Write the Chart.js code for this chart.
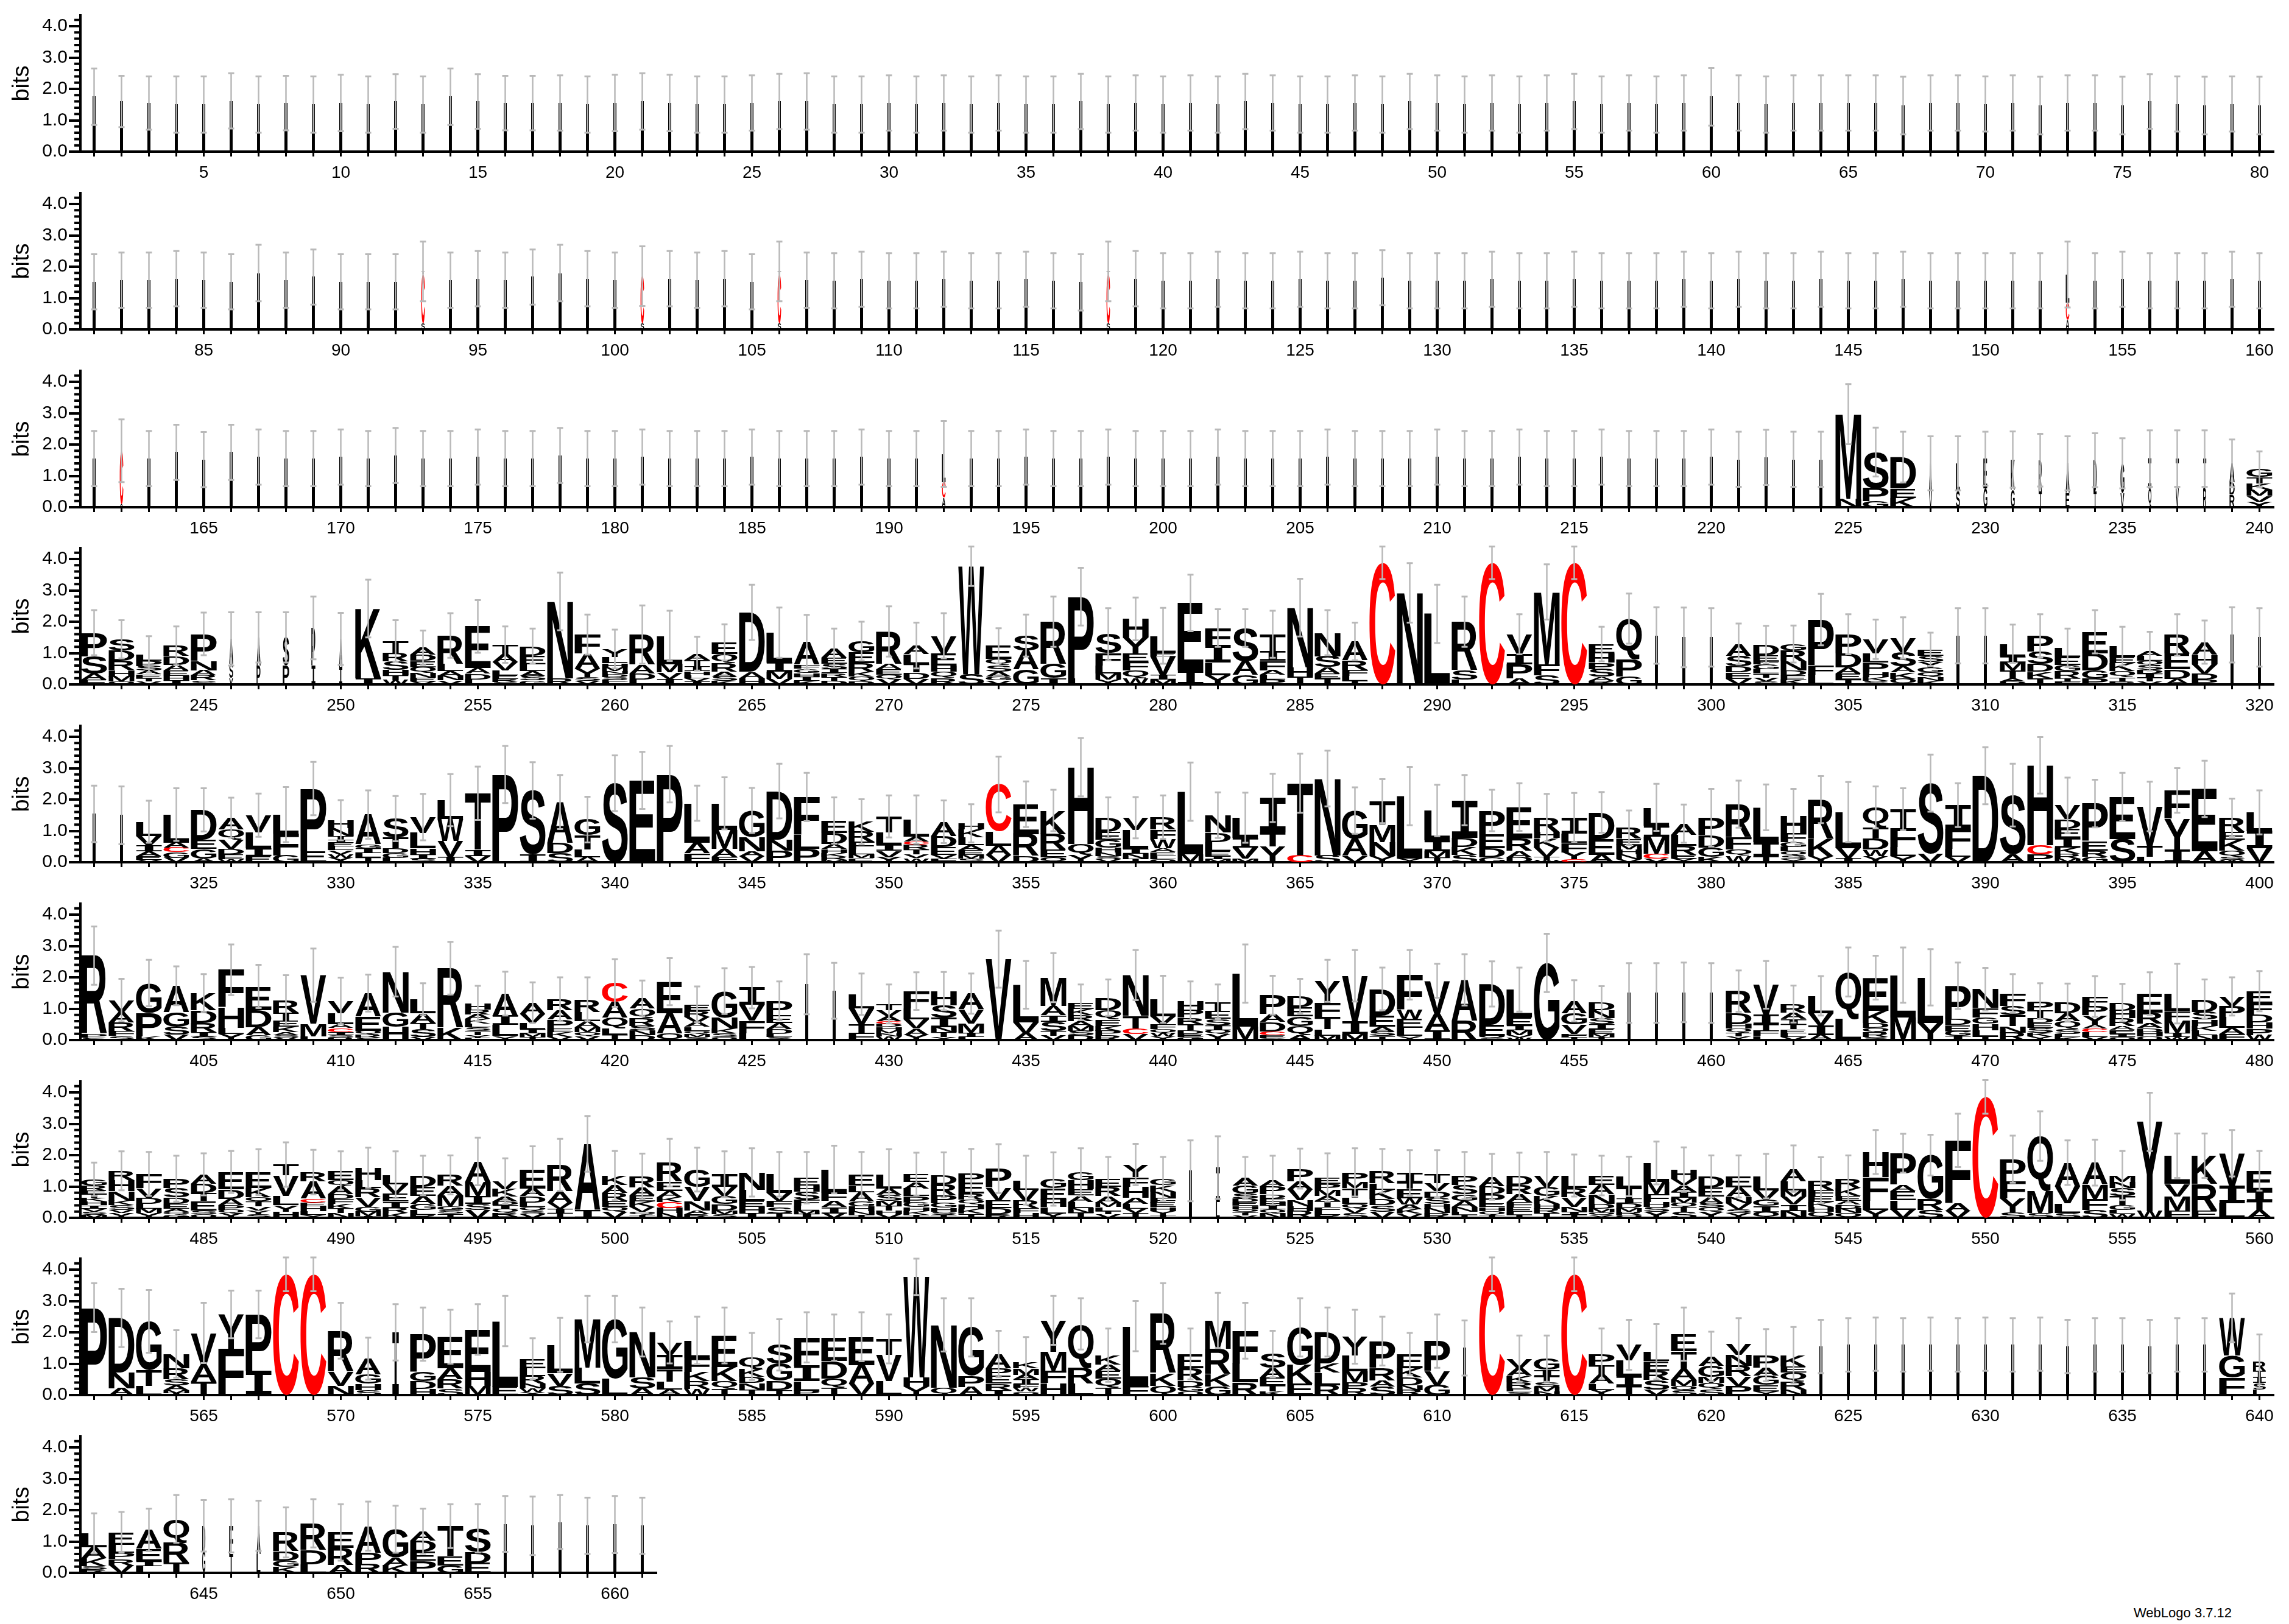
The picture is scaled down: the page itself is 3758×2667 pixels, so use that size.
<!DOCTYPE html>
<html>
<head>
<meta charset="utf-8">
<script src="https://cdn.jsdelivr.net/npm/chart.js@4.4.1/dist/chart.umd.min.js"></script>
<style>
  body { margin: 0; background: #fff; }
  #wrap { position: relative; width: 3758px; height: 2667px; background: #fff; overflow: hidden; }
  #wrap canvas { position: absolute; left: 0; }
  #credit { position: absolute; left: 3503px; top: 2636px; font: 22px "Liberation Sans", Arial, sans-serif; color: #000; }
</style>
</head>
<body>
<div id="wrap"><div id="credit">WebLogo 3.7.12</div></div>
<script>
// row start positions (80 positions per row, last row shorter)
const rowStarts = [1, 81, 161, 241, 321, 401, 481, 561, 641];
const yTickValues = [0, 1, 2, 3, 4];

// stacks: letters listed top -> bottom with their height in bits.
// "w.12" = stack width fraction (gappy column); a bare number = thin gappy column of that height
const row1 = [1.75,1.6,1.55,1.5,1.5,1.62,1.5,1.55,1.5,1.55, 1.5,1.6,1.5,1.75,1.6,1.55,1.55,1.55,1.5,1.55,
  1.6,1.55,1.5,1.5,1.55,1.6,1.6,1.5,1.5,1.55, 1.5,1.55,1.5,1.55,1.5,1.5,1.6,1.5,1.55,1.5,
  1.55,1.5,1.6,1.55,1.5,1.5,1.55,1.5,1.6,1.55, 1.5,1.55,1.5,1.55,1.6,1.5,1.55,1.5,1.55,1.75,
  1.55,1.5,1.55,1.55,1.55,1.55,1.47,1.55,1.55,1.52, 1.55,1.47,1.55,1.55,1.47,1.6,1.52,1.47,1.52,1.47];
const err1 = [.9,.82,.85,.9,.9,.88,.9,.87,.9,.9, .9,.87,.9,.9,.87,.87,.87,.88,.9,.9,
  .9,.9,.9,.9,.88,.88,.9,.9,.9,.88, .9,.88,.9,.88,.9,.9,.88,.9,.88,.9,
  .88,.9,.88,.88,.9,.9,.88,.9,.88,.88, .9,.88,.9,.88,.88,.9,.88,.9,.88,.92,
  .88,.9,.88,.88,.88,.88,.92,.88,.88,.88, .88,.92,.88,.88,.92,.87,.88,.92,.88,.92];

const row2 = [1.52,1.57,1.57,1.62,1.57,1.52,1.8,1.57,1.67,1.52,
  1.52,1.52,"w.14 T.08 C1.57 S.2",1.57,1.62,1.57,1.67,1.8,1.62,1.57,
  "w.14 C1.5 S.2",1.62,1.57,1.62,1.52,"w.14 T.1 C1.55 S.2",1.57,1.55,1.6,1.55,
  1.55,1.6,1.55,1.55,1.6,1.55,1.5,"w.14 T.1 C1.55 S.2",1.62,1.55,
  1.55,1.6,1.55,1.55,1.6,1.55,1.55,1.65,1.55,1.55,
  1.55,1.6,1.55,1.55,1.6,1.55,1.55,1.55,1.6,1.55,
  1.6,1.55,1.55,1.6,1.55,1.55,1.6,1.55,1.55,1.55,
  1.55,1.55,"w.14 L.9 C.55 A.3",1.55,1.6,1.55,1.55,1.55,1.6,1.55];
const err2 = [.88,.88,.88,.88,.88,.88,.9,.88,.88,.88, .88,.88,.95,.88,.88,.88,.88,.9,.88,.88,
  .95,.88,.88,.88,.88,.95,.88,.88,.88,.88, .88,.88,.88,.88,.88,.88,.9,.95,.88,.88,
  .88,.88,.88,.88,.88,.88,.88,.88,.88,.88, .88,.88,.88,.88,.88,.88,.88,.88,.88,.88,
  .88,.88,.88,.88,.88,.88,.88,.88,.88,.88, .88,.88,1.05,.88,.88,.88,.88,.88,.88,.88];

const row3 = [1.55,"w.14 C1.7 A.1",1.55,1.75,1.52,1.75,1.6,1.55,1.55,1.6,
  1.55,1.65,1.55,1.55,1.6,1.55,1.55,1.65,1.55,1.55,
  1.6,1.55,1.55,1.55,1.6,1.55,1.55,1.55,1.6,1.55,
  1.55,"w.14 L.9 C.5 A.3",1.55,1.55,1.6,1.55,1.55,1.6,1.55,1.55,
  1.55,1.6,1.55,1.55,1.55,1.6,1.55,1.55,1.55,1.6,
  1.55,1.55,1.6,1.55,1.55,1.6,1.55,1.55,1.55,1.6,
  1.53,1.59,1.53,1.53,"M2.7 N.27","S1.15 P.42 G.19","D1.0 E.3 K.3","w.12 A.9 V.5","w.15 L.9 S.5","w.15 E.95 G.6",
  "w.15 K.95 G.57","w.12 R1.0 T.5","w.15 A.95 E.45","w.12 D1.0 T.5","w.15 G.95 V.45","w.12 I.95 Q.6","w.12 T.95 V.6","w.12 T.95 R.6","w.2 A.6 D.4 R.4","G.25 T.2 K.2 M.2 V.18 Y.18"];
const err3 = [.88,1.0,.88,.88,.88,.88,.88,.88,.88,.88, .88,.88,.88,.88,.88,.88,.88,.88,.88,.88,
  .88,.88,.88,.88,.88,.88,.88,.88,.88,.88, .88,1.05,.88,.88,.88,.88,.88,.88,.88,.88,
  .88,.88,.88,.88,.88,.88,.88,.88,.88,.88, .88,.88,.88,.88,.88,.88,.88,.88,.88,.88,
  .88,.88,.88,.88,.96,.78,.81,.86,.86,.86, .9,.84,.86,.86,.8,.9,.9,.9,.76,.57];

const row4 = ["P.75 S.55 A.2 E.15","S.36 D.33 R.29 H.2 M.16 Q.1","L.2 P.17 S.15 A.12 E.12 T.1 V.1","R.32 D.28 A.18 E.18 H.15 I.12","P.86 N.3 A.16 R.16 S.13",
  "w.15 A.8 S.45 V.2","w.15 A.9 P.6","w.25 S.9 P.6","w.15 P1.2 I.6","w.12 A.9 I.55",
  "K2.22 I.2","T.38 R.27 S.27 H.18 T.15 W.14","A.22 D.2 E.2 Q.18 N.15 E.12 V.1","R.9 L.23 A.15 N.15 V.13","E1.33 A.18 D.18 L.16",
  "T.3 A.25 V.28 L.14 E.12 R.1 S.08","D.3 E.28 L.22 A.15 S.14 G.13","N2.45 R.2","F.6 A.48 Y.28 S.12 V.11","Y.25 L.2 H.13 M.12 N.1 D.1 S.08 E.08 L.07",
  "R.96 A.28 D.2 L.15","L.9 M.27 V.2 I.18","A.2 T.2 I.15 H.13 L.1 V.1 I.1","E.36 Q.3 R.27 A.15 S.14 K.12","D1.9 A.2 H.2",
  "L.95 I.3 M.22 V.18","A.72 F.13 G.13 H.13 I.12 K.12","A.3 E.2 S.18 I.12 R.12 T.12 D.12","G.35 E.35 R.28 K.15 Q.15 D.1","R1.03 A.17 E.17 Q.16 V.16",
  "A.28 L.3 T.28 D.2 V.18","V.55 E.4 H.2 Q.2 R.2","W3.45 S.32","E.42 Q.2 S.2 A.15 G.13 V.13","S.48 A.6 G.48",
  "R1.35 G.45 I.2","P2.6 L.2","S.6 F.4 L.25 M.2 Y.15","H.6 Y.5 E.27 F.27 Q.25 W.2","L.55 E.1 V.6 I.15 M.15",
  "E2.15 I.45","F.55 I.55 L.4 Y.3","S1.05 A.45 G.3","T.55 I.3 F.3 A.15 L.15 P.15","N1.9 H.3 T.25",
  "N.75 S.35 A.2 E.15 T.2","A.6 R.3 F.2 L.15 T.12","C3.88","N2.92","L2.25",
  "R1.55 S.3 L.15","C3.88","V.62 I.33 P.45 A.2","M2.3 F.35 S.3","C3.88",
  "E.3 H.3 P.2 S.25 A.12 R.12","Q1.3 P.55 G.25",1.56,1.5,1.5,
  "A.38 S.33 D.2 E.2 V.18","D.33 E.2 F.1 G.15 L.15 T.12 V.12 S.1","G.2 R.35 N.3 D.15 E.15 K.14","P1.45 F.3 L.32","P.6 D.45 A.2 E.2 T.15",
  "V.45 L.3 P.3 H.15 K.12 S.12","V.45 S.45 A.2 K.2 Q.18","E.2 S.2 Y.18 G.15 Q.15 N.12 K.12",1.55,1.55,
  "L.4 I.2 M.25 T.25 A.1 D.1","P.5 S.4 D.25 K.2 T.2","L.3 E.25 G.2 R.22 T.1 F.1","E.68 D.55 G.25 P.2","L.35 E.2 K.25 Q.2 T.12 R.1",
  "A.15 L.15 Q.15 S.15 D.12 I.12 T.12 V.1","R.6 E.5 D.3 A.18","A.4 H.3 V.3 D.2 P.15",1.58,1.5];
const err4 = [.72,.61,.58,.62,.68,.85,.8,.8,1.0,.83, .92,.66,.55,.71,.84,.58,.56,.92,.64,.62,
  .93,.8,.54,.58,.88,.8,.87,.62,.62,.8, .73,.72,.63,.56,.67,.8,.92,.83,.68,.89,
  .9,.6,.6,.75,.92,.72,.6,.52,.95,.93, .8,.52,.64,.88,.52,.55,.8,.9,.95,.93,
  .65,.6,.59,.82,.64,.63,.66,.53,.88,.88, .61,.69,.61,.69,.62,.62,.66,.69,.88,.93];

const row5 = [1.54,1.5,"L.45 V.3 I.2 A.14 E.12 V.08","L.9 A.16 C.14 G.18 V.14","D.95 E.3 G.3 A.12",
  "A.38 Q.32 V.3 D.17 E.15 W.1","V.55 L.5 I.25 E.2","L.6 F.7 G.22","P2.0 E.35","H.25 N.25 T.12 I.1 E.12 L.12 V.12 W.12 Y.14",
  "A.95 G.12 I.15 L.15 T.15","S.6 T.35 D.15 G.15 L.14","V.5 L.5 H.2 I.12 S.12","L.6 W.7 V.5 I.18","T1.8 I.2 V.2",
  "P2.8","S2.05 I.24","A1.3 D.32 S.3","G.5 T.45 L.25 A.16","S2.52",
  "E2.61","P2.81","L1.25 A.35 F.28","L.85 M.6 A.25 F.18","G.85 N.45 A.15 V.2",
  "D1.55 N.35 P.37","F1.2 L.45 P.43","E.4 D.35 A.15 H.13 K.12 R.1 M.08","K.32 R.32 F.25 L.15 M.12 E.13","T.5 L.4 I.2 V.2 Y.16",
  "L.55 A.15 C.1 R.15 T.15 V.13 W.13","A.45 D.35 E.25 V.12 F.12","H.2 K.25 L.25 A.15 E.15 M.12 S.12","C1.5 L.45 A.3 V.23","E.95 R.7 D.2",
  "K.75 R.5 E.25 Q.15","H2.45 Q.35 Y.23","D.45 E.25 G.25 H.15 N.12 S.1 V.1","V.4 L.6 I.15 N.15 T.12","R.4 F.3 W.3 A.12 E.12 L.1 Q.1",
  "L2.0 M.25","N.55 D.3 L.3 E.15 I.1 M.1","L.65 I.3 V.35 M.12","I1.1 T.45 Y.5","T2.3 C.22",
  "N2.45 S.22","G.9 A.55 V.2","T.75 M.55 N.45 Y.2","L2.0 Y.11","L.95 I.35 M.2 T.15",
  "I1.2 D.3 K.25 S.23","P.75 E.45 D.3 G.15","E1.0 R.4 A.2 D.16","R.45 H.2 K.3 V.3 T.1 W.07","I.5 L.3 F.3 Y.22 C.1",
  "D.85 E.5 A.24","R.35 E.2 M.15 H.15 N.15 V.1","L.58 I.35 M.55 C.15 V.12","A.35 L.35 R.3 E.12 Y.11","P.55 D.4 G.3 K.17",
  "R1.05 F.4 Q.2 W.2","L1.1 I.45 T.2","H.55 F.3 G.15 L.15 Q.12 S.12 Y.1","R1.25 K.55 Y.2","L1.15 V.32 I.13",
  "Q.65 T.35 D.35 W.2 Y.2","T.6 F.6 L.3 Y.19","S2.25 V.27","I.75 F.65 L.25 V.17","D2.76",
  "S1.9 A.24","H2.55 C.3 P.24","V.45 D.3 E.3 I.3 K.2 R.15 M.12","P1.2 E.3 R.2 G.17","E1.35 S.73",
  "V1.25 T.35 L.18","F.9 Y1.0 I.39","E2.0 A.34","R.45 E.25 K.35 Q.2 S.1 W.07","L.6 I.55 V.44"];
const err5 = [.9,.92,.67,.84,.69,.64,.69,.88,.85,.64, .77,.72,.74,.83,.85,.91,.9,.86,.73,.89,
  .91,.9,.56,.83,.72,.87,.77,.74,.72,.67, .77,.68,.61,.89,.73,.66,.93,.65,.66,.69,
  .93,.73,.8,.77,.94,.89,.74,.7,.93,.82, .8,.66,.76,.76,.79,.65,.55,.75,.61,.92,
  .75,.73,.85,.75,.96,.67,.67,.91,.7,.91, 1.0,.9,.88,.76,.77,.79,.71,.9,.61,.7];

const row6 = ["R2.5 P.12 S.07","V.38 A.32 R.3 F.14 S.13","G.95 P.75 K.12","A.85 G.45 S.25 V.18","K.55 D.4 R.3 I.13 S.12",
  "F1.2 H.65 L.2 Y.19","E.75 D.55 A.25 G.16","R.4 T.25 E.2 K.18 A.1 S.08 V.07","V1.55 M.4 L.12","V.4 L.35 A.12 C.12 I.1 S.08 R.08",
  "A.75 E.45 Q.12 R.1 S.08","N1.3 G.45 H.43","L.45 A.3 T.2 S.25 V.1","R1.9 K.39","H.2 R.15 A.15 K.15 L.12 S.12 T.12 Y.1 E.06",
  "A.7 I.3 L.35 Y.13","A.35 V.3 L.2 I.12 M.12 T.1","R.35 A.3 P.28 E.12 K.15 V.1","R.4 L.3 A.2 M.15 Q.13 V.12","C.6 A.5 Q.35 L.2 T.17",
  "A.33 Q.3 R.25 S.15 N.15 D.15","E1.0 A.65 Q.21","E.2 R.2 V.18 A.14 L.12 Q.1 M.1 S.1","G.85 N.35 K.14 S.12 Q.1","I.55 V.5 F.4 L.22",
  "P.45 E.25 A.2 D.15 L.1 S.1",1.78,1.57,"L.45 V.5 T.3 F.21","T.2 V.2 A.15 C.08 D.1 H.1 M.1 N.1 W.12",
  "F.55 L.35 V.3 A.2 Y.16","H.45 S.4 I.3 N.16 T.15 Y.1","A.5 V.45 M.3 I.13 L.1","V2.58","L1.2 V.35 A.21",
  "M.9 A.3 I.2 S.3 T.15 V.14","E.2 K.2 R.2 A.15 M.15 S.15 D.15","D.4 Q.3 E.2 K.15 P.15 R.15","N1.3 T.4 C.17 V.2","L.55 V.25 F.15 Q.12 W.12 Y.11",
  "H.3 P.25 R.2 T.2 D.12 E.1 G.09","T.3 E.25 S.2 I.15 Q.12 Y.2","L1.7 M.42","P.6 A.25 D.3 C.12 E.1 G.06","D.35 E.3 G.3 Q.3 A.15",
  "Y.7 F.45 T.4 L.2 M.14","V1.45 I.4 M.2","D.85 E.35 A.15 S.15 T.13","F1.1 W.3 E.3 L.25 Y.13","V1.05 A.55 I.29",
  "A1.3 R.62","D1.3 E.35 Q.08 S.06","L.9 E.25 I.15 M.15 V.08 W.08","G2.46","A.4 G.35 V.3 F.1 T.1",
  "D.25 N.25 S.2 I.15 E.15 M.1 T.1",1.5,1.5,1.52,1.5,
  "R.7 D.35 H.15 Q.12 T.12 Y.12","V.95 I.3 T.2 F.18 L.13","R.28 A.2 I.18 T.15 E.12 L.12 V.1","L.55 V.4 I.3 A.16","Q1.5 L.67",
  "E1.05 K.4 D.15 Q.15 R.14 S.1","L1.35 M.72","L1.45 Y.55","P1.05 D.2 E.2 G.15 I.13","N.6 F.3 G.2 H.2 L.2 T.12",
  "F.4 S.3 T.35 N.2 R.24","P.3 T.25 D.15 E.15 S.15 K.12 Y.12","D.35 A.25 Q.25 S.15 L.1 K.1","F.3 P.3 Y.3 A.12 C.12 L.15 V.1","D.25 H.25 R.25 A.12 E.12 I.1 Q.1",
  "E.6 R.35 A.15 D.12 H.14 Q.12","L.55 F.3 M.4 I.13 W.1","D.4 S.25 H.2 K.15 L.15 N.15","V.3 P.35 L.35 A.2 F.19","E.4 F.35 D.25 H.2 P.2 W.16"];
const err6 = [.93,.68,.74,.62,.6,.81,.69,.79,.85,.74, .59,.79,.51,.84,.56,.7,.65,.7,.7,.76,
  .57,.75,.57,.73,.66,.62,.96,.89,.66,.62, .6,.61,.64,.91,.76,.78,.57,.58,.8,.75,
  .61,.55,.93,.62,.55,.67,.82,.68,.79,.54, .82,.72,.7,.93,.66,.52,.95,.95,.95,.95,
  .66,.76,.59,.63,.78,.7,.88,.9,.74,.68, .61,.57,.6,.65,.6,.68,.95,.63,.61,.64];

const row7 = ["G.2 R.15 E.12 T.12 K.12 H.12 I.1 V.1 S.1 M.1","R.3 H.35 N.3 K.15 S.15 V.1 Y.15","F.45 V.3 D.2 L.15 M.15 Y.15","P.3 S.3 D.2 E.15 A.1 Q.1 G.1","A.3 D.3 T.25 E.3 S.12 Q.12",
  "E.55 D.3 A.2 P.15 Q.12 Y.14","E.5 K.3 Q.15 T.15 V.12 Y.12 S.12","T.35 V.65 L.3 Y.2 H.2","R.3 A.55 C.12 E.12 H.15 L.12 Y.1","E.3 Q.2 A.25 D.15 F.15 K.15 T.15 N.15",
  "H.4 L.25 R.3 V.3 G.15 M.15 I.05","L.3 V.3 E.25 I.2 R.17 K.15","D.35 E.3 A.25 G.2 L.15 R.1","R.35 A.3 M.35 G.12 S.12 T.13","A.65 M.45 I.25 S.2 V.25",
  "V.25 K.25 A.15 D.12 I.12 Q.12 R.12 E.04","E.6 A.25 D.2 L.15 Q.12 S.1 V.12","R.85 A.35 V.2 I.15 T.14","A2.1 I.26","K.3 A.25 R.25 E.2 Q.15 V.2",
  "R.35 A.25 E.2 K.17 V.15 Q.1 T.1","R.6 E.3 A.2 K.15 C.2 H.16 N.15","G.55 V.45 N.3 A.12 R.12","I.4 V.3 G.25 D.2 M.12 S.12","N.55 L.35 E.2 H.2 I.15",
  "L.6 V.25 F.2 S.2 T.14","E.25 H.2 S.25 F.2 L.15 M.12 I.11","L.75 F.25 A.2 I.2 V.14","E.35 L.2 A.3 G.15 H.15 N.12 T.1","L.45 A.2 S.2 M.15 T.15 H.12 V.12",
  "E.25 A.2 L.25 P.2 G.15 H.12 K.12 T.1","D.3 R.35 P.25 G.15 H.12 S.1 T.1","P.3 E.35 R.2 Q.15 H.15 K.15 T.13","P.6 V.4 E.25 D.2 R.12","L.3 V.35 R.25 F.15 H.15",
  "G.3 E.35 H.25 L.2 Y.14","G.25 H.3 E.2 A.2 L.2 N.15 T.16","E.25 R.3 A.2 M.15 L.12 T.1 V.12","Y.4 F.3 H.35 A.2 L.15 V.15 T.15","G.2 K.2 N.2 F.15 E.15 H.12 Y.12 T.1",
  1.5,"w.15 I1.1 L.5","A.25 G.25 S.15 D.12 E.12 H.1 Q.1 T.1 V.08","A.2 P.25 D.12 E.12 H.12 I.12 Q.12 N.15","P.4 A.25 V.35 N.2 H.15 R.22",
  "E.2 P.2 M.2 A.15 T.2 F.12 L.12 R.1","P.3 M.2 T.3 L.2 Q.15 V.15 S.15","R.4 L.2 K.3 D.2 S.2 V.2","I.3 T.2 E.3 W.2 A.15 K.15 V.13","T.3 V.25 D.2 S.2 H.15 N.15 R.15",
  "P.3 S.3 G.2 A.2 N.15 L.1 T.1","A.3 D.25 P.3 E.12 H.12 Q.12 T.1","D.3 R.3 A.25 F.15 E.15 L.1 T.1","V.35 G.3 K.25 H.15 R.15 T.15","L.4 R.3 V.3 N.15 I.1 T.1",
  "E.3 A.3 N.3 D.15 M.12 Q.1 Y.08","L.35 T.35 I.15 D.15 M.12 R.1 Q.1","L.6 M.4 F.25 H.15 S.15 Y.2","H.3 V.2 A.2 I.2 M.15 Q.15 T.14 S.2","D.35 E.3 A.2 S.15 Q.12 Y.2",
  "E.35 A.3 N.2 V.2 S.12 Y.15","L.45 V.3 G.2 I.2 Q.18","A.4 L.3 M.2 V.25 I.2 N.22","R.3 F.2 E.2 K.15 H.15 Q.2","R.3 K.25 E.15 A.12 D.12 N.15 Q.15",
  "H.8 F.75 L.3 Y.25","P1.0 A.2 E.3 L.3 V.26","G1.4 R.35 S.25","F2.0 A.25 V.22","C3.86",
  "P.7 F.55 Y.45 S.17","Q1.75 M.7 S.16","A.75 V.55 L.3 S.16","A.7 M.45 F.35 S.26","M.2 N.2 S.25 T.3 G.15 L.12 W.13",
  "Y2.85 W.21","L.9 V.4 M.45 F.23","K.9 R.85 E.23","V1.05 I.55 L.46","E.65 I.3 T.3 A.25"];
const err7 = [.53,.62,.7,.73,.67,.67,.73,.71,.71,.62, .64,.75,.63,.62,.76,.73,.74,.83,.89,.78,
  .73,.76,.7,.73,.77,.71,.82,.76,.73,.8, .69,.72,.77,.78,.78,.85,.76,.7,.66,.7,
  .97,1.0,.67,.78,.64,.77,.77,.7,.73,.76, .75,.73,.73,.75,.67,.63,.63,.68,.71,.67,
  .67,.71,.74,.73,.75,.7,.62,.65,.85,.54, .75,.79,.71,.73,.78,.93,.71,.71,.74,.63];

const row8 = ["P2.79","D1.75 N.5 A.21","G1.55 T.5 L.3","N.45 R.35 S.2 A.15 M.1 T.06","V1.0 A.55 T.43",
  "Y1.1 F1.47","P1.8 I.77","C3.85","C3.85","R1.3 V.45 N.3",
  "A.5 G.3 H.2 S.16","w.25 I2.0","P1.2 G.3 D.25 H.19","E1.0 A.35 R.3 S.21","E1.35 H.45 M.29",
  "L2.1 E.26","E.3 L.25 R.25 N.15 W.11 Y.1","L.9 V.4 S.3","M1.55 L.5 S.37","G1.9 L.52",
  "N1.45 S.35 A.21","V.4 I.45 T.4 L.25 A.18","L.55 F.45 K.3 R.25 W.19","E1.0 K.45 Q.25 T.2","Q.4 K.25 D.2 N.2 T.18",
  "S.6 G.55 D.3 T.15","F.9 I.5 L.3 P.14","E.75 D.55 Q.3 T.23","E.9 A.6 V.36","T.5 V.85 L.44",
  "W3.2 H.3 Y.27","N2.0 Q.24","G1.55 P.35 A.26","A.45 P.25 E.25 R.2 I.16","K.2 M.2 A.15 I.15 F.12 W.12 Q.11",
  "Y1.0 M.6 F.4 H.38","Q1.4 R.5 L.37","K.3 A.2 E.25 Q.3 T.22","L1.9 F.3","R1.9 K.4 Q.3",
  "E.45 R.4 D.2 G.14 Q.12","M.9 R.8 K.4 G.28","F1.05 L.6 R.4","S.45 A.3 E.25 T.2 K.11","G1.2 K.6 E.36",
  "D1.0 K.3 L.4 R.31","Y.6 L.5 M.35 P.2 R.21","P.85 R.4 A.2 S.27","E.45 K.3 D.25 N.15 R.16","P.95 V.45 G.32",
  1.5,"C3.85","V.3 A.25 K.2 R.2 E.1 S.11","G.35 I.2 T.2 S.15 M.15 N.11","C3.85",
  "P.35 T.3 A.3 L.2 Y.16","V.5 L.5 I.3 T.3","L.3 E.3 R.3 S.3 V.18","E.55 T.55 A.35 M.2 Q.15 S.14","A.3 G.35 M.2 Q.2 S.18",
  "V.35 N.35 R.35 V.3 P.29","P.4 A.25 G.3 E.2 Y.12","K.35 E.2 Q.3 R.25 N.17",1.55,1.6,
  1.62,1.6,1.62,1.6,1.62,1.6,1.62,1.55,1.6,1.6,
  1.55,1.6,1.6,"W1.2 G.7 F.56","w.5 R.3 T.2 I.2 S.2 L.18"];
const err8 = [.78,.93,1.0,.76,.96,.76,.76,.54,.54,.89, .67,.9,.85,.86,.81,.8,.65,.86,.74,.74,
  .78,.67,.76,.89,.75,.82,.8,.74,.78,.78, .58,.85,.93,.74,.8,.78,.82,.85,.8,.97,
  .81,.88,.89,.74,.93,.78,.86,.78,.67,.85, .88,.54,.74,.74,.54,.81,.8,.88,.85,.79,
  .81,.83,.9,.85,.85,.85,.85,.85,.85,.85, .85,.85,.85,.85,.85,.85,.85,.85,.78,.85];

const row9 = ["L.45 A.35 K.25 S.1 R.11","E.4 L.25 P.2 R.2 V.24","A.6 E.4 I.15 L.22","Q.75 R.65 T.32","w.12 D.8 G.7",
  "w.15 F.9 T.6","w.15 A.9 L.6","R.6 D.3 G.2 K.19","R.85 D.45 L.28","E.5 R.55 A.24",
  "A.85 P.35 R.29","G.9 A.25 K.24","A.3 D.35 E.3 P.38","T.95 E.3 G.24","S.75 D.35 E.32",
  1.56,1.5,1.62,1.5,1.54,1.5];
const err9 = [.64,.65,.68,.76,.82,.85,.8,.8,.77,.9,.78,.75,.72,.7,.77,.89,.93,.86,.9,.91,.9];

const rowStacks = [row1, row2, row3, row4, row5, row6, row7, row8, row9];
const rowErrors = [err1, err2, err3, err4, err5, err6, err7, err8, err9];

// layout / style
const rowStep = 291.75;
const canvasH = 310;
const axisLeft = 132;
const colPx = 45;
const gapWidth = 0.12;
const FONT = '"Liberation Sans", Arial, sans-serif';
const GLYPH_FONT = 'bold 200px ' + FONT;
// the logo "I" has bars top and bottom, so take it from a slab-style face
const SERIF_I_FONT = 'bold 200px "DejaVu Sans Mono", "Liberation Mono", monospace';

const metricCtx = document.createElement('canvas').getContext('2d');
const metricCache = {};
function glyphFont(ch) { return ch === 'I' ? SERIF_I_FONT : GLYPH_FONT; }
function glyphBox(ch) {
  if (!metricCache[ch]) {
    metricCtx.font = glyphFont(ch);
    const m = metricCtx.measureText(ch);
    metricCache[ch] = { left: m.actualBoundingBoxLeft, right: m.actualBoundingBoxRight,
      asc: m.actualBoundingBoxAscent, desc: m.actualBoundingBoxDescent };
  }
  return metricCache[ch];
}

function drawGlyph(ctx, ch, x, y, w, h, color) {
  if (w < 0.3 || h < 0.3) return;
  const b = glyphBox(ch);
  const gw = b.left + b.right, gh = b.asc + b.desc;
  ctx.save();
  ctx.translate(x, y);
  ctx.scale(w / gw, h / gh);
  ctx.font = glyphFont(ch);
  ctx.fillStyle = color;
  ctx.textAlign = 'left';
  ctx.textBaseline = 'alphabetic';
  ctx.fillText(ch, b.left, b.asc);
  ctx.restore();
}

function parseStack(entry) {
  // thin gappy column: drawn as a plain bar
  if (typeof entry === 'number') return { width: gapWidth, letters: [{ l: '|', h: entry }] };
  let width = 1;
  const letters = [];
  entry.trim().split(/\s+/).forEach(tok => {
    if (tok[0] === 'w') width = parseFloat(tok.slice(1));
    else letters.push({ l: tok[0], h: parseFloat(tok.slice(1)) });
  });
  return { width, letters };
}

function logoPlugin(stacks, errs, start) {
  return {
    id: 'logo' + start,
    afterDatasetsDraw(chart) {
      const { ctx, scales: { x, y } } = chart;
      const colW = x.getPixelForValue(1) - x.getPixelForValue(0);
      stacks.forEach((entry, i) => {
        const st = parseStack(entry);
        const cx = x.getPixelForValue(start + i);
        const w = colW * st.width * 0.94;
        let cum = 0;
        for (let k = st.letters.length - 1; k >= 0; k--) {
          const g = st.letters[k];
          const yb = y.getPixelForValue(cum);
          const yt = y.getPixelForValue(cum + g.h);
          drawGlyph(ctx, g.l, cx - w / 2, yt, w, yb - yt, g.l === 'C' ? '#ff0000' : '#000000');
          cum += g.h;
        }
        // error bar centred on the stack top
        const e = errs[i];
        const yHi = y.getPixelForValue(cum + e);
        const yLo = y.getPixelForValue(Math.max(0, cum - e));
        ctx.save();
        ctx.strokeStyle = '#b9b9b9';
        ctx.lineWidth = 2.5;
        ctx.beginPath();
        ctx.moveTo(cx, yHi); ctx.lineTo(cx, yLo);
        ctx.stroke();
        ctx.lineWidth = 3;
        ctx.beginPath();
        ctx.moveTo(cx - 5, yHi); ctx.lineTo(cx + 5, yHi);
        ctx.moveTo(cx - 5, yLo); ctx.lineTo(cx + 5, yLo);
        ctx.stroke();
        ctx.restore();
      });
    },
    afterDraw(chart) {
      // minor y ticks every 0.2 bits
      const { ctx, chartArea, scales: { y } } = chart;
      ctx.save();
      ctx.strokeStyle = '#000';
      ctx.lineWidth = 4;
      ctx.beginPath();
      for (let v = 1; v <= 21; v++) {
        if (v % 5 === 0) continue;
        const py = y.getPixelForValue(v * 0.2);
        ctx.moveTo(chartArea.left - 10, py);
        ctx.lineTo(chartArea.left, py);
      }
      ctx.stroke();
      ctx.restore();
    }
  };
}

const wrap = document.getElementById('wrap');
rowStacks.forEach((stacks, k) => {
  const start = rowStarts[k];
  const errs = rowErrors[k];
  const n = stacks.length;
  const canvasW = k === 8 ? 1110 : 3758;
  const c = document.createElement('canvas');
  c.width = canvasW;
  c.height = canvasH;
  c.style.top = Math.round(k * rowStep) + 'px';
  c.style.width = canvasW + 'px';
  c.style.height = canvasH + 'px';
  wrap.appendChild(c);

  const positions = stacks.map((s, i) => start + i);
  const totals = stacks.map(s => parseStack(s).letters.reduce((a, g) => a + g.h, 0));

  new Chart(c, {
    type: 'scatter',
    data: { datasets: [{ data: positions.map((p, i) => ({ x: p, y: totals[i] })), pointRadius: 0, showLine: false }] },
    options: {
      responsive: false,
      animation: false,
      devicePixelRatio: 1,
      events: [],
      layout: { padding: { top: 25, left: 0, bottom: 0, right: canvasW - axisLeft - n * colPx } },
      plugins: { legend: { display: false }, tooltip: { enabled: false } },
      scales: {
        x: {
          type: 'linear',
          min: start - 0.5,
          max: start + n - 0.5,
          afterBuildTicks: s => { s.ticks = positions.map(v => ({ value: v })); },
          afterFit: s => { s.height = canvasH - 249; },
          ticks: {
            autoSkip: false, maxRotation: 0, minRotation: 0, padding: 10,
            color: '#000', font: { family: FONT, size: 28 },
            callback: v => (v % 5 === 0 ? String(v) : '')
          },
          grid: { display: true, drawOnChartArea: false, drawTicks: true, tickLength: 8, lineWidth: 3, color: '#000' },
          border: { display: true, width: 4, color: '#000' }
        },
        y: {
          min: 0,
          max: 4.35,
          afterBuildTicks: s => { s.ticks = yTickValues.map(v => ({ value: v })); },
          afterFit: s => { s.width = axisLeft; },
          ticks: { padding: 2, color: '#000', font: { family: FONT, size: 30 }, callback: v => v.toFixed(1) },
          grid: { display: true, drawOnChartArea: false, drawTicks: true, tickLength: 19, lineWidth: 4, color: '#000' },
          border: { display: true, width: 4, color: '#000' },
          title: { display: true, text: 'bits', color: '#000', font: { family: FONT, size: 38 }, padding: { top: 14, bottom: 0 } }
        }
      }
    },
    plugins: [logoPlugin(stacks, errs, start)]
  });
});
</script>
</body>
</html>
